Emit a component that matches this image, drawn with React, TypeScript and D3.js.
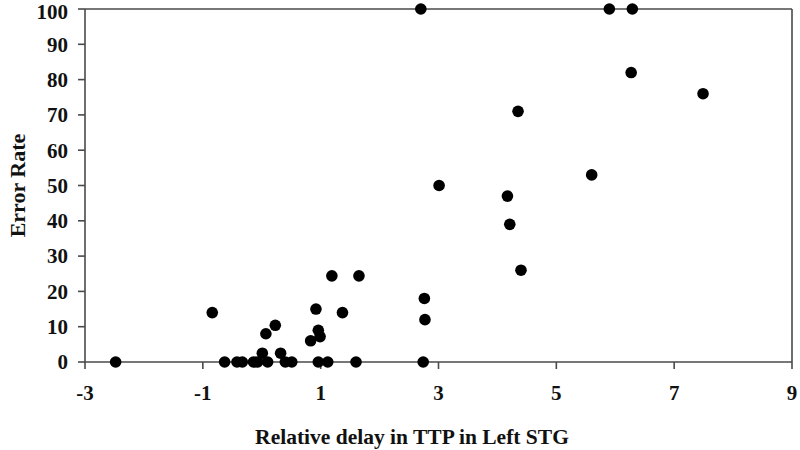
import React from "react";
import * as d3 from "d3";

const xValues = [
  -2.48, -0.84, -0.63, -0.42, -0.33, -0.14, -0.07, 0.01, 0.07, 0.1, 0.23, 0.32, 0.4, 0.51,
  0.83, 0.92, 0.96, 0.99, 0.96, 1.12, 1.19, 1.37, 1.6, 1.65,
  2.7, 2.76, 2.77, 2.74, 3.01, 4.17, 4.21, 4.35, 4.4, 5.6, 5.9, 6.29, 6.27, 7.49,
];
const yValues = [
  0, 14, 0, 0, 0, 0, 0, 2.5, 8, 0, 10.4, 2.5, 0, 0,
  6, 15, 9, 7.2, 0, 0, 24.4, 14, 0, 24.4,
  100, 18, 12, 0, 50, 47, 39, 71, 26, 53, 100, 100, 82, 76,
];
const xTicks = [-3, -1, 1, 3, 5, 7, 9];
const yTicks = [0, 10, 20, 30, 40, 50, 60, 70, 80, 90, 100];
const xTitle = "Relative delay in TTP in Left STG";
const yTitle = "Error Rate";

export default function App() {
  const W = 800, H = 450;
  const left = 85, right = 792, top = 9, bottom = 362;
  const x = d3.scaleLinear().domain([-3, 9]).range([left, right]);
  const y = d3.scaleLinear().domain([0, 100]).range([bottom, top]);
  const axisColor = "#4a4a4a";
  const font = "'Liberation Serif', 'Times New Roman', serif";
  const fs = 21;
  const pts = xValues.map((v, i) => ({ x: v, y: yValues[i] }));
  return (
    <svg width={W} height={H} style={{ position: "absolute", left: 0, top: 0, background: "#fff" }}>
      <rect x={0} y={0} width={W} height={H} fill="#fff" />
      <line x1={left} y1={top} x2={right} y2={top} stroke={axisColor} strokeWidth={1.6} />
      <line x1={right} y1={top} x2={right} y2={bottom} stroke={axisColor} strokeWidth={1.6} />
      <line x1={left} y1={top} x2={left} y2={bottom} stroke={axisColor} strokeWidth={1.6} />
      <line x1={left} y1={bottom} x2={right} y2={bottom} stroke={axisColor} strokeWidth={1.6} />
      {yTicks.map((t) => (
        <g key={"y" + t}>
          <line x1={left - 7} x2={left} y1={y(t)} y2={y(t)} stroke={axisColor} strokeWidth={1.6} />
          <text x={left - 17} y={Math.max(y(t) + fs * 0.35, fs * 0.9)} textAnchor="end" fontFamily={font} fontWeight="bold" fontSize={fs} fill="#111">
            {t}
          </text>
        </g>
      ))}
      {xTicks.map((t) => (
        <g key={"x" + t}>
          <line x1={x(t)} x2={x(t)} y1={bottom} y2={bottom + 7} stroke={axisColor} strokeWidth={1.6} />
          <text x={x(t)} y={400} textAnchor="middle" fontFamily={font} fontWeight="bold" fontSize={fs} fill="#111">
            {t}
          </text>
        </g>
      ))}
      <text x={412} y={444} textAnchor="middle" fontFamily={font} fontWeight="bold" fontSize={21.5} fill="#111">
        {xTitle}
      </text>
      <text transform={`translate(25, ${(top + bottom) / 2}) rotate(-90)`} textAnchor="middle" fontFamily={font} fontWeight="bold" fontSize={22} fill="#111">
        {yTitle}
      </text>
      {pts.map((p, i) => (
        <circle key={i} cx={x(p.x)} cy={y(p.y)} r={5.8} fill="#000" />
      ))}
    </svg>
  );
}
